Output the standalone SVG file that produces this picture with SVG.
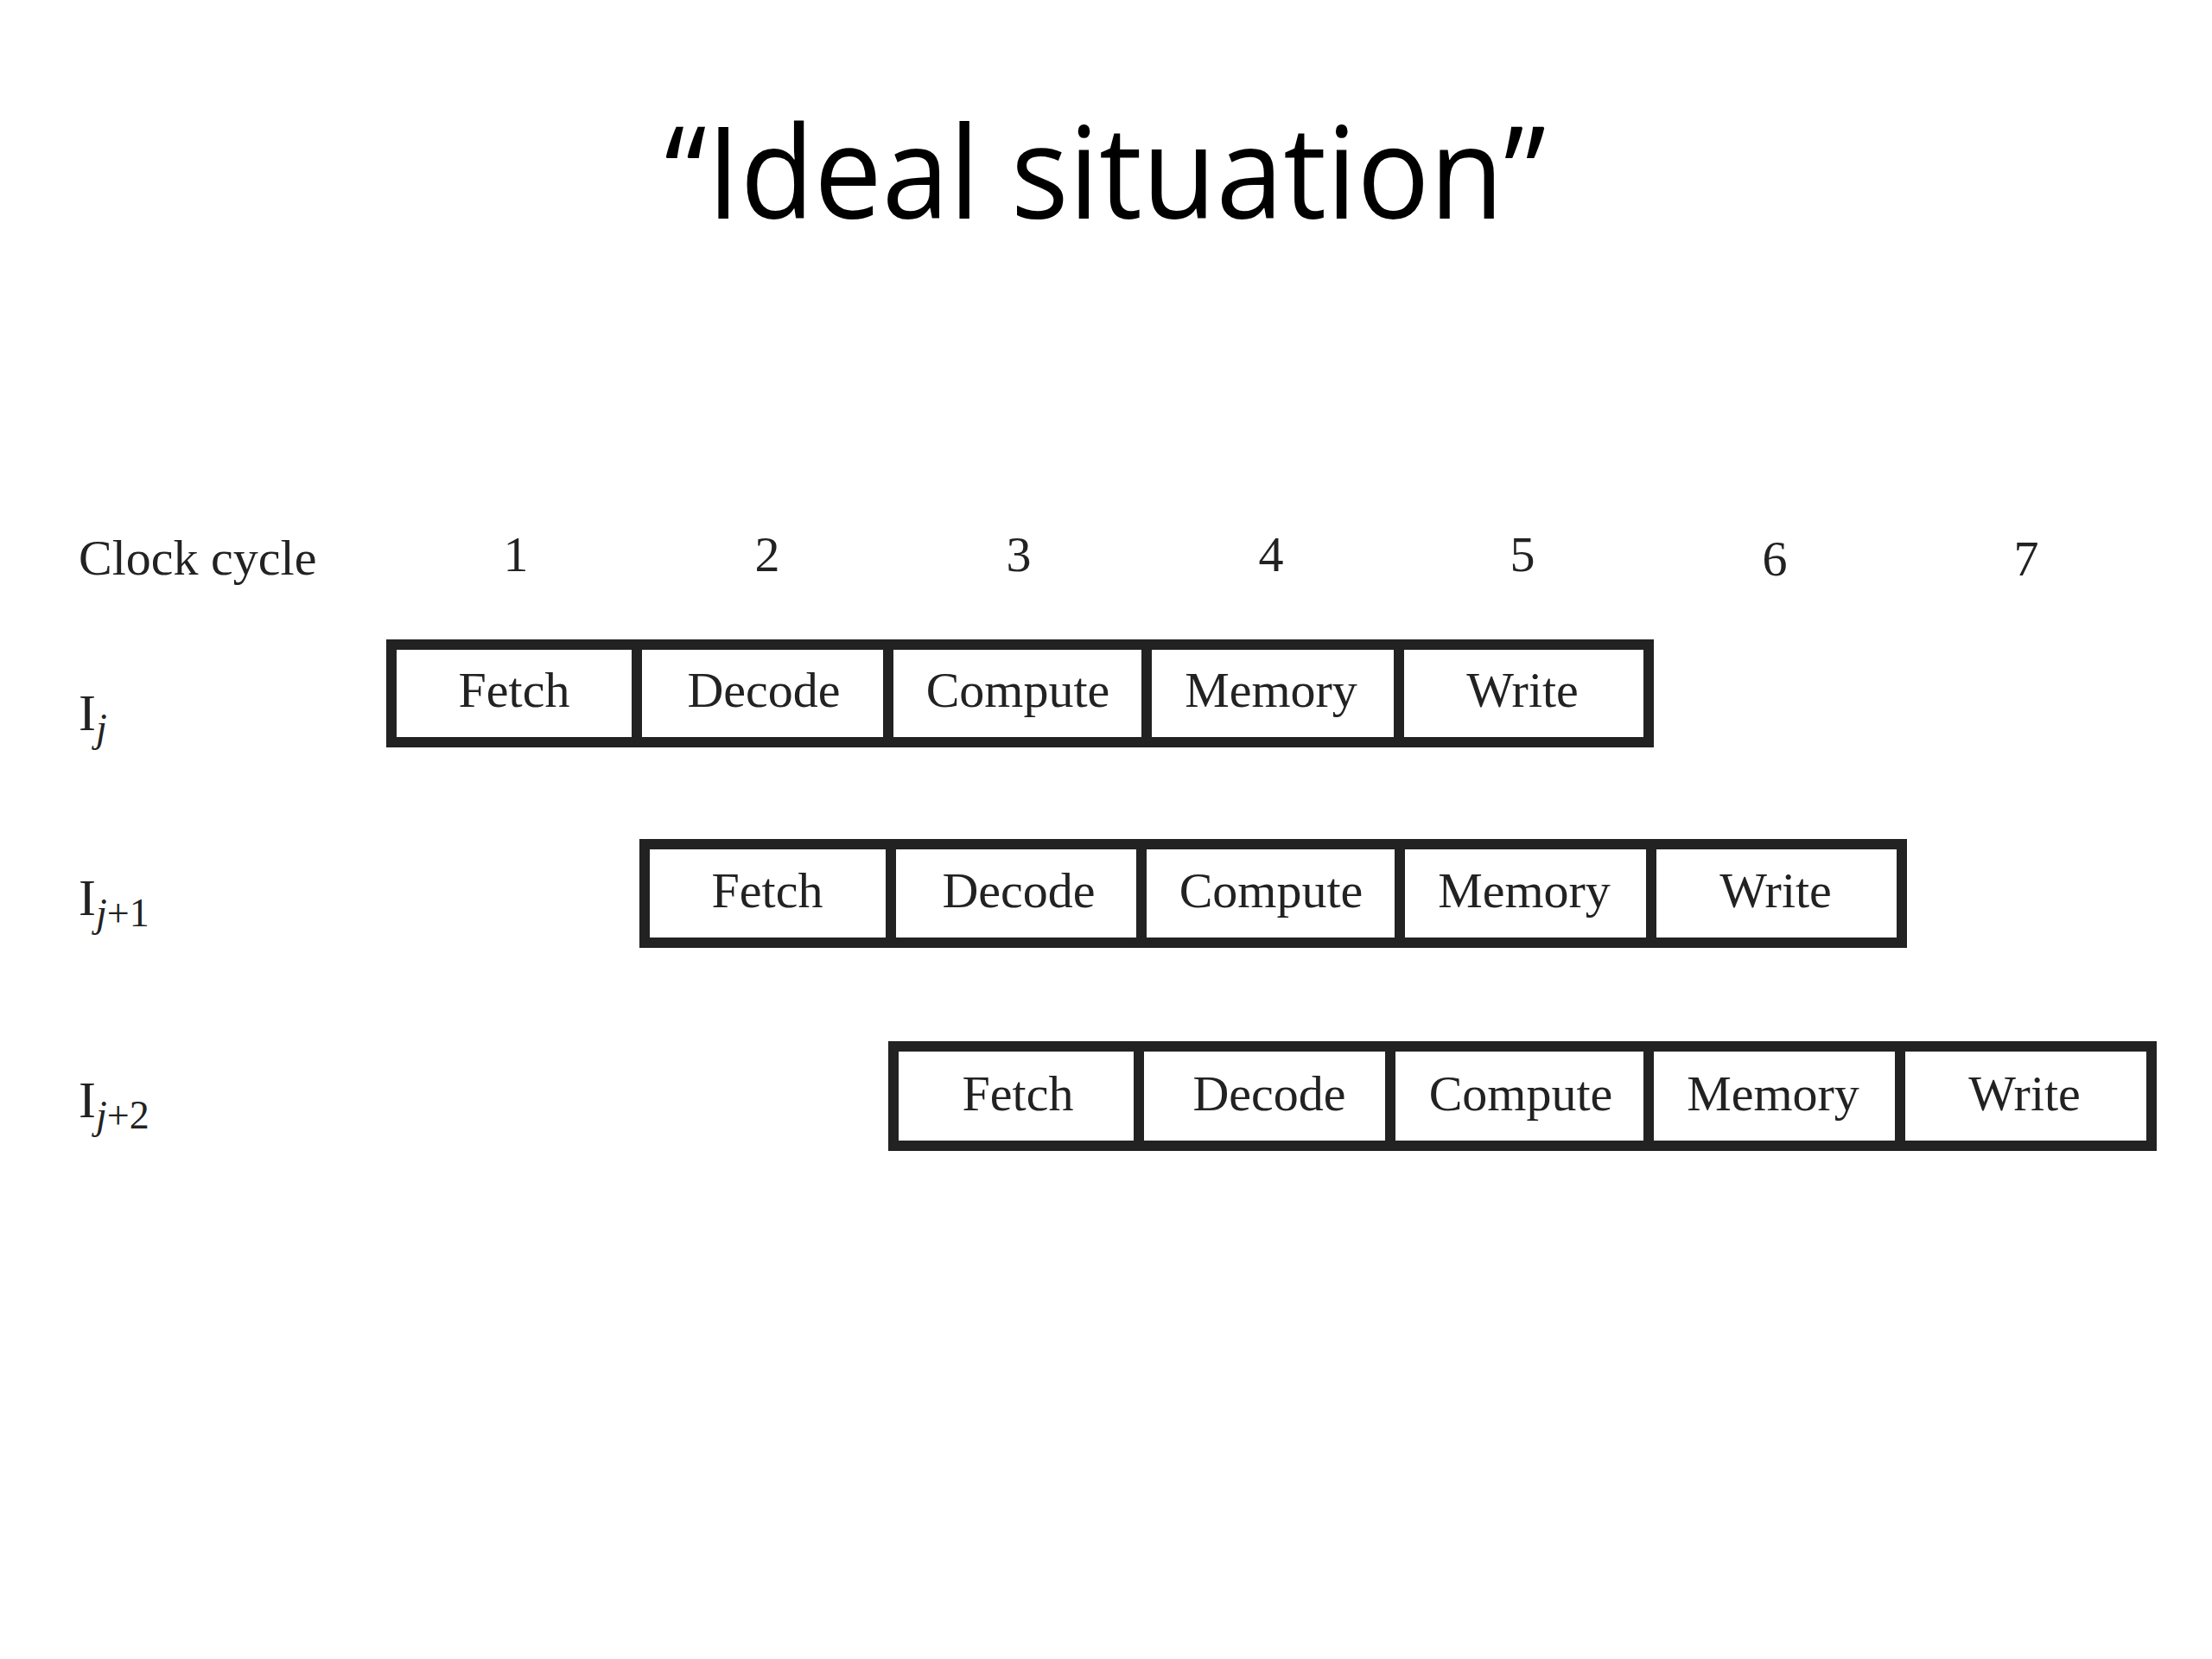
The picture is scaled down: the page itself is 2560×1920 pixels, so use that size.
<svg xmlns="http://www.w3.org/2000/svg" width="2560" height="1920" viewBox="0 0 2560 1920">
  <style>
    .title { font-family: "Open Sans", "Noto Sans", sans-serif; font-size: 148px; fill: #000; }
    .lbl { font-family: "Liberation Serif", "Times New Roman", serif; font-size: 58px; fill: #222; }
    .cell { fill: #fff; stroke: #222; stroke-width: 12; }
    .ct { font-family: "Liberation Serif", "Times New Roman", serif; font-size: 58px; fill: #222; text-anchor: middle; }
    .num { font-family: "Liberation Serif", "Times New Roman", serif; font-size: 58px; fill: #222; text-anchor: middle; }
    .rl { font-family: "Liberation Serif", "Times New Roman", serif; font-size: 60px; fill: #222; }
    .sub { font-size: 46px; }
  </style>
  <rect width="2560" height="1920" fill="#fff"/>

  <g id="title">
    <text class="title" x="1279" y="253" text-anchor="middle" textLength="1020" lengthAdjust="spacingAndGlyphs">“Ideal situation”</text>
  </g>

  <g id="clock-header">
    <text class="lbl" x="91" y="665">Clock cycle</text>
    <text class="num" x="597" y="661">1</text>
    <text class="num" x="888" y="661">2</text>
    <text class="num" x="1179" y="661">3</text>
    <text class="num" x="1471" y="661">4</text>
    <text class="num" x="1762" y="661">5</text>
    <text class="num" x="2054" y="666">6</text>
    <text class="num" x="2345" y="666">7</text>
  </g>

  <g id="row-labels">
    <text class="rl" x="91" y="845">I<tspan class="sub" font-style="italic" dy="13">j</tspan></text>
    <text class="rl" x="91" y="1059">I<tspan class="sub" font-style="italic" dy="13">j</tspan><tspan class="sub">+1</tspan></text>
    <text class="rl" x="91" y="1293">I<tspan class="sub" font-style="italic" dy="13">j</tspan><tspan class="sub">+2</tspan></text>
  </g>

  <g id="row-j">
    <g id="j-fetch"><rect class="cell" x="453" y="746" width="284" height="113"/><text class="ct" x="595" y="818">Fetch</text></g>
    <g id="j-decode"><rect class="cell" x="737" y="746" width="291" height="113"/><text class="ct" x="884" y="818">Decode</text></g>
    <g id="j-compute"><rect class="cell" x="1028" y="746" width="299" height="113"/><text class="ct" x="1178" y="818">Compute</text></g>
    <g id="j-memory"><rect class="cell" x="1327" y="746" width="292" height="113"/><text class="ct" x="1471" y="818">Memory</text></g>
    <g id="j-write"><rect class="cell" x="1619" y="746" width="289" height="113"/><text class="ct" x="1762" y="818">Write</text></g>
  </g>

  <g id="row-j1">
    <g id="j1-fetch"><rect class="cell" x="746" y="977" width="285" height="114"/><text class="ct" x="888" y="1050">Fetch</text></g>
    <g id="j1-decode"><rect class="cell" x="1031" y="977" width="290" height="114"/><text class="ct" x="1179" y="1050">Decode</text></g>
    <g id="j1-compute"><rect class="cell" x="1321" y="977" width="299" height="114"/><text class="ct" x="1471" y="1050">Compute</text></g>
    <g id="j1-memory"><rect class="cell" x="1620" y="977" width="291" height="114"/><text class="ct" x="1764" y="1050">Memory</text></g>
    <g id="j1-write"><rect class="cell" x="1911" y="977" width="290" height="114"/><text class="ct" x="2055" y="1050">Write</text></g>
  </g>

  <g id="row-j2">
    <g id="j2-fetch"><rect class="cell" x="1034" y="1211" width="284" height="115"/><text class="ct" x="1178" y="1285">Fetch</text></g>
    <g id="j2-decode"><rect class="cell" x="1318" y="1211" width="291" height="115"/><text class="ct" x="1469" y="1285">Decode</text></g>
    <g id="j2-compute"><rect class="cell" x="1609" y="1211" width="299" height="115"/><text class="ct" x="1760" y="1285">Compute</text></g>
    <g id="j2-memory"><rect class="cell" x="1908" y="1211" width="291" height="115"/><text class="ct" x="2052" y="1285">Memory</text></g>
    <g id="j2-write"><rect class="cell" x="2199" y="1211" width="291" height="115"/><text class="ct" x="2343" y="1285">Write</text></g>
  </g>

  <g id="connectors"></g>
</svg>
